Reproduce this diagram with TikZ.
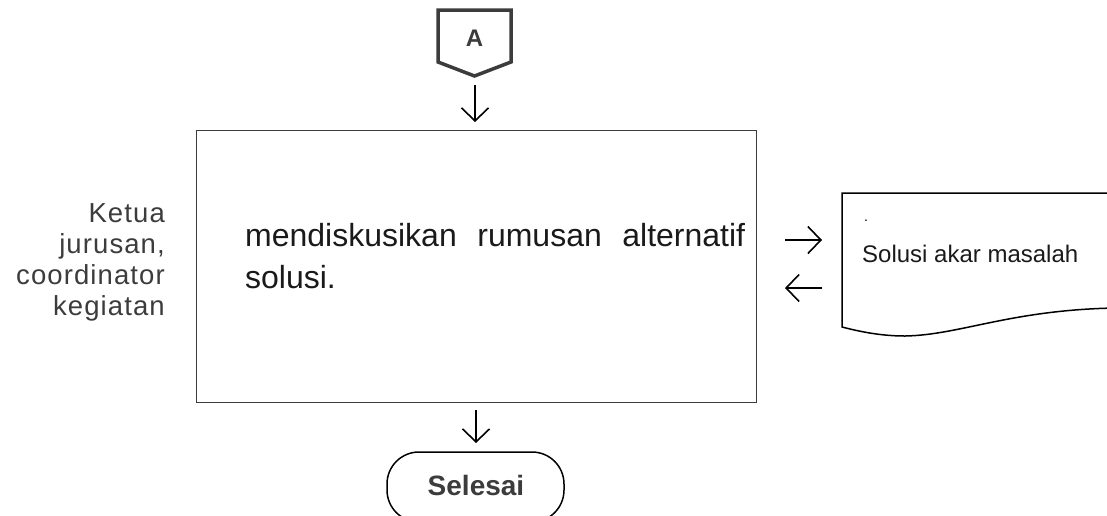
\documentclass[tikz,border=0pt]{standalone}
\usepackage{fontspec}
\setmainfont{Liberation Sans}
\newfontfamily\labfont[LetterSpace=4]{Liberation Sans}
\usetikzlibrary{arrows.meta}
\definecolor{dk}{HTML}{3C3C3C}
\definecolor{tx}{HTML}{1A1A1A}
\tikzset{
  arr/.style={line width=1.6pt, -{Straight Barb[length=13pt,width=27pt,line width=1.6pt]}},
  box/.style={draw=dk, line width=1.3pt},
}
\begin{document}
\begin{tikzpicture}[x=1pt,y=-1pt]
\useasboundingbox (0,0) rectangle (1107,515);
\clip (0,0) rectangle (1107,515);
% connector A
\draw[dk, line width=3.5pt, line join=miter] (438,10) -- (511,10) -- (511,62) -- (474.5,76) -- (438,62) -- cycle;
\node[anchor=base, font=\fontsize{24}{28}\selectfont\bfseries, text=dk, inner sep=0] (A) at (474.5,46) {A};
\coordinate (a1) at (475,85);
\coordinate (a2) at (475,122);
\draw[arr] (a1) -- (a2);
% main box
\node[box, minimum width=560, minimum height=272, anchor=north west, inner sep=0] (main) at (196,130) {};
\node[anchor=north west, text width=500, align=justify, text=tx, font=\fontsize{32}{42}\selectfont, inner sep=0] (mtext) at (245,223) {mendiskusikan rumusan alternatif\linebreak solusi.};
% left label
\node[anchor=north east, align=right, text=dk, font=\labfont\fontsize{27.5}{31}\selectfont, inner sep=0] (lab) at (165,203) {Ketua\\jurusan,\\coordinator\\kegiatan};
% arrows right
\coordinate (r1) at (785,240);
\coordinate (r2) at (822,240);
\draw[arr] (r1) -- (r2);
\coordinate (l1) at (822,288);
\coordinate (l2) at (785,288);
\draw[arr] (l1) -- (l2);
% document
\draw[black, line width=1.5pt] (1115,308) -- (1115,193) -- (842,193) -- (842,327)
  .. controls (865,333) and (885,336) .. (905,336)
  .. controls (960,335) and (1010,310) .. (1115,308);
\node[anchor=base west, text=tx, font=\fontsize{24}{28}\selectfont, inner sep=0] (doc) at (862,262) {Solusi akar masalah};
\node[font=\fontsize{14}{16}\selectfont, inner sep=0] (dot) at (866,221) {.};
% bottom arrow
\coordinate (b1) at (476,410);
\coordinate (b2) at (476,443);
\draw[arr] (b1) -- (b2);
% terminator
\draw[black, line width=1.5pt, rounded corners=32pt] (387,452) rectangle (564,522);
\node[anchor=base, font=\fontsize{28}{32}\selectfont\bfseries, text=dk, inner sep=0] (sel) at (476,495) {Selesai};
\end{tikzpicture}
\end{document}
